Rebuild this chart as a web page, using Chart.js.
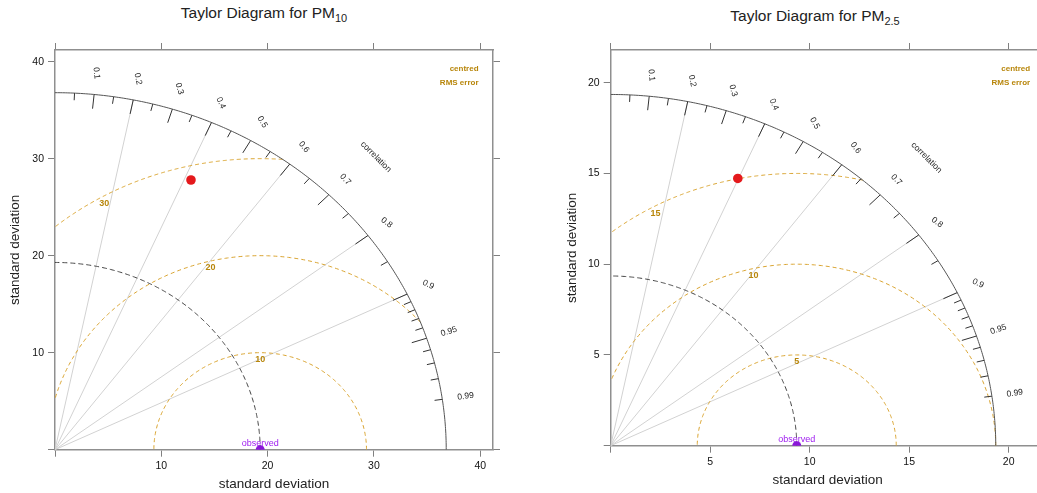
<!DOCTYPE html>
<html>
<head>
<meta charset="utf-8">
<script src="https://cdn.jsdelivr.net/npm/chart.js@4.4.0/dist/chart.umd.min.js"></script>
<style>
  body { margin: 0; width: 1037px; height: 493px; overflow: hidden; background: #fff; position: relative;
         font-family: "Liberation Sans", Arial, sans-serif; }
  .panel { position: absolute; top: 0; height: 493px; }
  .title { position: absolute; font-size: 15.5px; line-height: 18px; color: #222; white-space: nowrap; transform: translateX(-50%); }
  .title sub { font-size: 11px; vertical-align: baseline; position: relative; top: 4px; }
</style>
</head>
<body>
<div class="title" style="left:264px; top:4px">Taylor Diagram for PM<sub>10</sub></div>
<div class="title" style="left:815px; top:7px">Taylor Diagram for PM<sub>2.5</sub></div>
<div class="panel" style="left:0; width:520px"><canvas id="pm10"></canvas></div>
<div class="panel" style="left:520px; width:541px"><canvas id="pm25"></canvas></div>

<script>
// values
const pollutants = ['PM10', 'PM2.5'];
const obsSd = [19.3, 9.35];
const modelSd = [30.6, 16.05];
const modelCor = [0.418, 0.398];
const outerSd = [36.8, 19.35];
const axisMax = [41.2, 21.8];
const sdStep = [10, 5];
const rmsLevels = [[10, 20, 30], [5, 10, 15]];
const rmsLabelAngles = [[90, 104, 120], [90, 103, 119]];
const corLines = [0.2, 0.4, 0.6, 0.8, 0.9];
const corMajorTicks = [0.1, 0.2, 0.3, 0.4, 0.5, 0.6, 0.7, 0.8, 0.9, 0.95];
const corMinorTicks = [0.05, 0.15, 0.25, 0.35, 0.45, 0.55, 0.65, 0.75, 0.85,
                       0.91, 0.92, 0.93, 0.94, 0.96, 0.97, 0.98, 0.99];
const corLabels = ['0.1', '0.2', '0.3', '0.4', '0.5', '0.6', '0.7', '0.8', '0.9', '0.95', '0.99'];

Chart.defaults.font.family = '"Liberation Sans", Arial, sans-serif';

const gold = '#d9a431';
const goldText = '#b8860b';

const taylorPlugin = {
  id: 'taylor',
  beforeDatasetsDraw(chart, args, opts) {
    const i = opts.panel;
    const {ctx, chartArea: a} = chart;
    const xs = chart.scales.x, ys = chart.scales.y;
    const P = (vx, vy) => [xs.getPixelForValue(vx), ys.getPixelForValue(vy)];
    const R = outerSd[i], o = obsSd[i];

    function arc(cx, cy, r, t1, t2) {
      ctx.beginPath();
      const n = 240;
      for (let k = 0; k <= n; k++) {
        const t = t1 + (t2 - t1) * k / n;
        const [px, py] = P(cx + r * Math.cos(t), cy + r * Math.sin(t));
        if (k === 0) ctx.moveTo(px, py); else ctx.lineTo(px, py);
      }
      ctx.stroke();
    }
    function text(str, x, y, rot, font, color) {
      ctx.save();
      ctx.translate(x, y);
      ctx.rotate(rot);
      ctx.font = font;
      ctx.fillStyle = color;
      ctx.textAlign = 'center';
      ctx.textBaseline = 'middle';
      ctx.fillText(str, 0, 0);
      ctx.restore();
    }

    ctx.save();
    ctx.beginPath();
    ctx.rect(a.left, a.top, a.right - a.left, a.bottom - a.top);
    ctx.clip();

    // radial correlation lines
    ctx.strokeStyle = '#d2d2d2';
    ctx.lineWidth = 1;
    corLines.forEach(c => {
      const t = Math.acos(c);
      ctx.beginPath();
      ctx.moveTo(...P(0, 0));
      ctx.lineTo(...P(R * Math.cos(t), R * Math.sin(t)));
      ctx.stroke();
    });

    // centred RMS error arcs around the observed point
    ctx.setLineDash([4, 3]);
    ctx.strokeStyle = gold;
    rmsLevels[i].forEach(r => {
      const c1 = (R * R - o * o - r * r) / (2 * o * r);
      const t1 = Math.acos(Math.max(-1, Math.min(1, c1)));
      const t2 = r > o ? Math.acos(-o / r) : Math.PI;
      arc(o, 0, r, t1, t2);
    });

    // observed standard deviation
    ctx.setLineDash([5, 3]);
    ctx.strokeStyle = '#444';
    arc(0, 0, o, 0, Math.PI / 2);

    // outer correlation arc
    ctx.setLineDash([]);
    ctx.strokeStyle = '#555';
    arc(0, 0, R, 0, Math.PI / 2);

    // ticks on the arc
    ctx.strokeStyle = '#333';
    const tick = (c, len) => {
      const t = Math.acos(c);
      ctx.beginPath();
      ctx.moveTo(...P(R * Math.cos(t), R * Math.sin(t)));
      ctx.lineTo(...P(R * (1 - len) * Math.cos(t), R * (1 - len) * Math.sin(t)));
      ctx.stroke();
    };
    corMajorTicks.forEach(c => tick(c, 0.04));
    corMinorTicks.forEach(c => tick(c, 0.02));

    // correlation labels
    const small = '8.5px "Liberation Sans", Arial, sans-serif';
    corLabels.forEach(lab => {
      const c = parseFloat(lab);
      const t = Math.acos(c);
      const [px, py] = P(1.06 * R * Math.cos(t), 1.06 * R * Math.sin(t));
      const rot = c > 0.9 ? -t : t;
      text(lab, px, py, rot, small, '#222');
    });
    const [cx, cy] = P(1.16 * R * Math.SQRT1_2, 1.16 * R * Math.SQRT1_2);
    text('correlation', cx, cy, Math.PI / 4, small, '#222');

    // RMS labels
    rmsLevels[i].forEach((r, k) => {
      const t = rmsLabelAngles[i][k] * Math.PI / 180;
      const [px, py] = P(o + r * Math.cos(t), r * Math.sin(t));
      const [ox, oy] = P(o, 0);
      const d = Math.hypot(ox - px, oy - py);
      text(String(r), px + 6.5 * (ox - px) / d, py + 6.5 * (oy - py) / d, 0,
           'bold 9px "Liberation Sans", Arial, sans-serif', goldText);
    });

    // legend text for the arcs
    const m = axisMax[i];
    ctx.font = 'bold 8px "Liberation Sans", Arial, sans-serif';
    ctx.fillStyle = goldText;
    ctx.textAlign = 'right';
    ctx.textBaseline = 'middle';
    const [lx, ly1] = P(0.967 * m, 0.952 * m);
    const [, ly2] = P(0, 0.918 * m);
    ctx.fillText('centred', lx, ly1);
    ctx.fillText('RMS error', lx, ly2);

    // observed label
    const [obx, oby] = P(o, 0);
    ctx.font = '9px "Liberation Sans", Arial, sans-serif';
    ctx.fillStyle = '#a020f0';
    ctx.textAlign = 'center';
    ctx.textBaseline = 'bottom';
    ctx.fillText('observed', obx, oby - 1.5);

    ctx.restore();
  }
};

function axis(pos, max, step, size, showLabels, title) {
  const horizontal = pos === 'bottom' || pos === 'top';
  const s = {
    type: 'linear',
    position: pos,
    min: 0,
    max: max,
    grid: { display: true, drawOnChartArea: false, drawTicks: true, tickLength: 7, color: '#808080', lineWidth: 1 },
    border: { display: true, color: '#8f8f8f', width: 1.5 },
    ticks: {
      stepSize: step, includeBounds: false, autoSkip: false, maxRotation: 0, minRotation: 0,
      padding: horizontal ? 3 : 4, color: '#111', font: { size: 10.5 },
      callback: v => (showLabels && v !== 0) ? v : ''
    },
    afterFit: sc => { if (horizontal) sc.height = size; else sc.width = size; }
  };
  if (title) {
    s.title = { display: true, text: 'standard deviation', color: '#222', font: { size: 13.5 }, padding: title };
  }
  return s;
}

function makeChart(id, i, box) {
  const m = axisMax[i], st = sdStep[i];
  const s = modelSd[i], r = modelCor[i];
  new Chart(document.getElementById(id), {
    type: 'scatter',
    data: {
      datasets: [
        { label: 'observed', data: [{ x: obsSd[i], y: 0 }], pointRadius: 4.5, backgroundColor: '#8a17d9',
          borderWidth: 0, clip: 0 },
        { label: pollutants[i], data: [{ x: s * r, y: s * Math.sqrt(1 - r * r) }], pointRadius: 4.8,
          backgroundColor: '#e4191c', borderWidth: 0 }
      ]
    },
    options: {
      responsive: true,
      maintainAspectRatio: false,
      animation: false,
      events: [],
      layout: { padding: 0 },
      plugins: { legend: { display: false }, tooltip: { enabled: false }, title: { display: false }, taylor: { panel: i } },
      scales: {
        x: axis('bottom', m, st, box.bottom, true, { top: 0, bottom: box.xTitle }),
        x2: axis('top', m, st, box.top, false, null),
        y: axis('left', m, st, box.left, true, { top: box.yTitle, bottom: 0 }),
        y2: axis('right', m, st, box.right, false, null)
      }
    },
    plugins: [taylorPlugin]
  });
}

makeChart('pm10', 0, { left: 55, right: 27, top: 50, bottom: 43.3, xTitle: 1, yTitle: 7 });
makeChart('pm25', 1, { left: 90.7, right: 16.5, top: 50, bottom: 47.3, xTitle: 5, yTitle: 44 });
</script>
</body>
</html>
